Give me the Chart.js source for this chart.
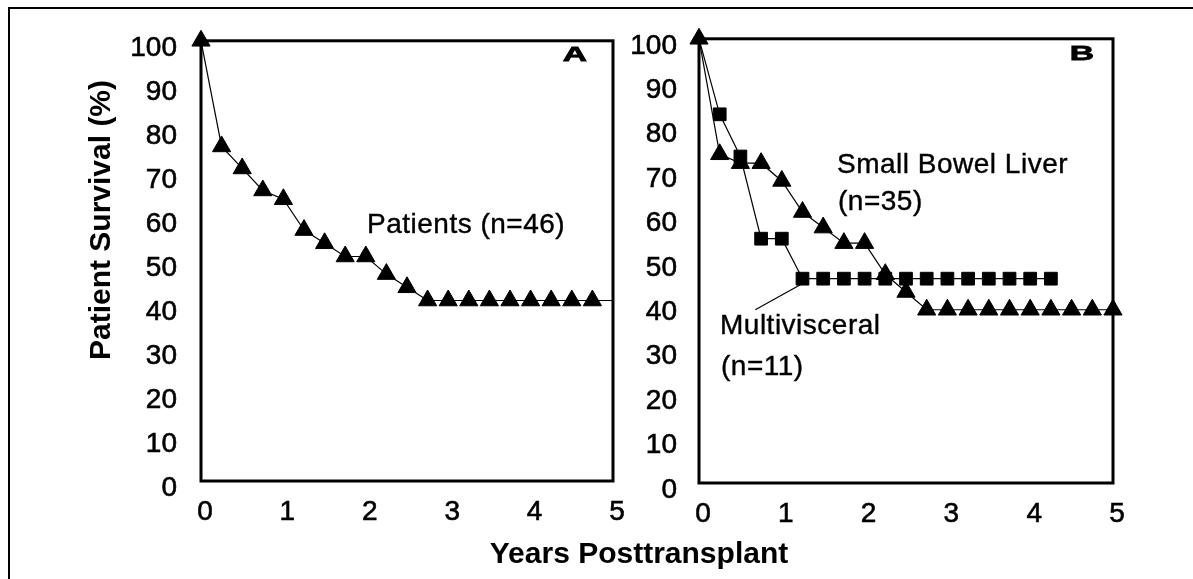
<!DOCTYPE html>
<html lang="en">
<head>
  <meta charset="UTF-8">
  <title>Patient survival</title>
  <script src="https://cdn.jsdelivr.net/npm/chart.js"></script>
  <style>
    body {
      margin: 0;
      background: #fff;
      width: 1193px;
      height: 579px;
      overflow: hidden;
      position: relative;
      font-family: "Liberation Sans", Arial, sans-serif;
      color: #000;
    }
    canvas { position: absolute; top: 0; }
    #chartA { left: 0; }
    #chartB { left: 499px; }
    .frame {
      position: absolute;
      left: 8px; top: 7px;
      width: 1200px; height: 600px;
      border-top: 2px solid #000;
      border-left: 2px solid #000;
    }
    .txt {
      position: absolute;
      font-size: 28px;
      line-height: 28px;
      letter-spacing: 0.5px;
      white-space: nowrap;
      -webkit-text-stroke: 0.4px #000;
    }
    .title {
      position: absolute;
      font-size: 30px;
      line-height: 30px;
      font-weight: bold;
      text-align: center;
      white-space: nowrap;
    }
    .panel {
      position: absolute;
      width: 60px;
      font-size: 21px;
      line-height: 21px;
      font-weight: bold;
      text-align: center;
      transform: scaleX(1.6);
      -webkit-text-stroke: 0.8px #000;
    }
  </style>
</head>
<body>
  <div class="frame"></div>
  <canvas id="chartA" width="660" height="579"></canvas>
  <canvas id="chartB" width="661" height="579"></canvas>

  <div class="title" style="left:-100px; top:205px; width:400px; transform:rotate(-90deg);">Patient Survival (%)</div>
  <div class="title" style="left:339px; top:538px; width:600px;">Years Posttransplant</div>

  <div class="panel" style="left:545px; top:43px;">A</div>
  <div class="panel" style="left:1052px; top:42px;">B</div>

  <div class="txt" style="left:367px; top:210px;">Patients (n=46)</div>
  <div class="txt" style="left:837px; top:150px;">Small Bowel Liver</div>
  <div class="txt" style="left:838px; top:187px;">(n=35)</div>
  <div class="txt" style="left:720px; top:311px;">Multivisceral</div>
  <div class="txt" style="left:721px; top:352px;">(n=11)</div>

  <script>
    // values (years, % surviving)
    const xTicks = [0, 1, 2, 3, 4, 5];

    // panel A - all patients
    const patientYears = [0, 0.25, 0.5, 0.75, 1, 1.25, 1.5, 1.75, 2, 2.25, 2.5,
      2.75, 3, 3.25, 3.5, 3.75, 4, 4.25, 4.5, 4.75, 5];
    const patientSurvival = [100, 76, 71, 66, 64, 57, 54, 51, 51, 47, 44,
      41, 41, 41, 41, 41, 41, 41, 41, 41, 41];

    // panel B - small bowel liver
    const sblYears = [0, 0.25, 0.5, 0.75, 1, 1.25, 1.5, 1.75, 2, 2.25, 2.5,
      2.75, 3, 3.25, 3.5, 3.75, 4, 4.25, 4.5, 4.75, 5];
    const sblSurvival = [100, 74, 72, 72, 68, 61, 57.5, 54, 54, 47, 43,
      39, 39, 39, 39, 39, 39, 39, 39, 39, 39];

    // panel B - multivisceral
    const mvYears = [0, 0.25, 0.5, 0.75, 1, 1.25, 1.5, 1.75, 2, 2.25, 2.5,
      2.75, 3, 3.25, 3.5, 3.75, 4, 4.25];
    const mvSurvival = [100, 83, 73.5, 55, 55, 46, 46, 46, 46, 46, 46,
      46, 46, 46, 46, 46, 46, 46];

    // leader line from the "Multivisceral" label to its curve
    const leaderYears = [0.68, 1.24];
    const leaderSurvival = [39, 44.8];

    const FONT = '"Liberation Sans", Arial, sans-serif';

    function toPoints(xs, ys) {
      return xs.map((x, i) => ({ x: x, y: ys[i] }));
    }

    // black frame round the plot area
    const boxPlugin = {
      id: 'box',
      beforeDatasetsDraw(chart) {
        const { ctx, chartArea: a } = chart;
        ctx.save();
        ctx.lineWidth = 3;
        ctx.strokeStyle = '#000';
        ctx.strokeRect(a.left, a.top, a.right - a.left, a.bottom - a.top);
        ctx.restore();
      }
    };

    function makeOptions(cfg) {
      return {
        responsive: false,
        animation: false,
        layout: { padding: { left: 0, top: cfg.top, right: cfg.right, bottom: 0 } },
        plugins: { legend: { display: false }, tooltip: { enabled: false } },
        scales: {
          x: {
            type: 'linear',
            min: 0, max: 5,
            afterBuildTicks(scale) { scale.ticks = xTicks.map(v => ({ value: v })); },
            afterFit(scale) { scale.height = cfg.xHeight; },
            grid: { display: false, drawTicks: false },
            border: { display: false },
            ticks: {
              color: '#000',
              font: { family: FONT, size: 28 },
              textStrokeColor: '#000',
              textStrokeWidth: 0.6,
              padding: 14,
              labelOffset: 4,
              autoSkip: false,
              maxRotation: 0
            }
          },
          y: {
            min: 0, max: 100,
            afterFit(scale) { scale.width = cfg.yWidth; },
            grid: { display: false, drawTicks: false },
            border: { display: false },
            ticks: {
              stepSize: 10,
              color: '#000',
              font: { family: FONT, size: 28 },
              textStrokeColor: '#000',
              textStrokeWidth: 0.6,
              padding: cfg.yPad,
              labelOffset: 7,
              autoSkip: false
            }
          }
        }
      };
    }

    const lineStyle = {
      borderColor: '#000',
      backgroundColor: '#000',
      borderWidth: 1.2,
      pointBackgroundColor: '#000',
      pointBorderColor: '#000',
      pointBorderWidth: 1,
      tension: 0,
      clip: false
    };

    new Chart(document.getElementById('chartA'), {
      type: 'line',
      data: {
        datasets: [{
          ...lineStyle,
          label: 'Patients (n=46)',
          data: toPoints(patientYears, patientSurvival),
          pointStyle: 'triangle',
          pointRadius: patientYears.map((x, i) => i === patientYears.length - 1 ? 0 : 10.5)
        }]
      },
      options: makeOptions({ top: 34, right: 47, xHeight: 98, yWidth: 201, yPad: 24 }),
      plugins: [boxPlugin]
    });

    new Chart(document.getElementById('chartB'), {
      type: 'line',
      data: {
        datasets: [{
          ...lineStyle,
          label: 'Multivisceral (n=11)',
          data: toPoints(mvYears, mvSurvival),
          pointStyle: 'rect',
          pointRadius: mvYears.map((x, i) => i === 0 ? 0 : 9)
        }, {
          ...lineStyle,
          label: 'Small Bowel Liver (n=35)',
          data: toPoints(sblYears, sblSurvival),
          pointStyle: 'triangle',
          pointRadius: 10.5
        }, {
          ...lineStyle,
          label: 'leader',
          data: toPoints(leaderYears, leaderSurvival),
          pointRadius: 0
        }]
      },
      options: makeOptions({ top: 33, right: 47, xHeight: 96, yWidth: 200, yPad: 22 }),
      plugins: [boxPlugin]
    });
  </script>
</body>
</html>
